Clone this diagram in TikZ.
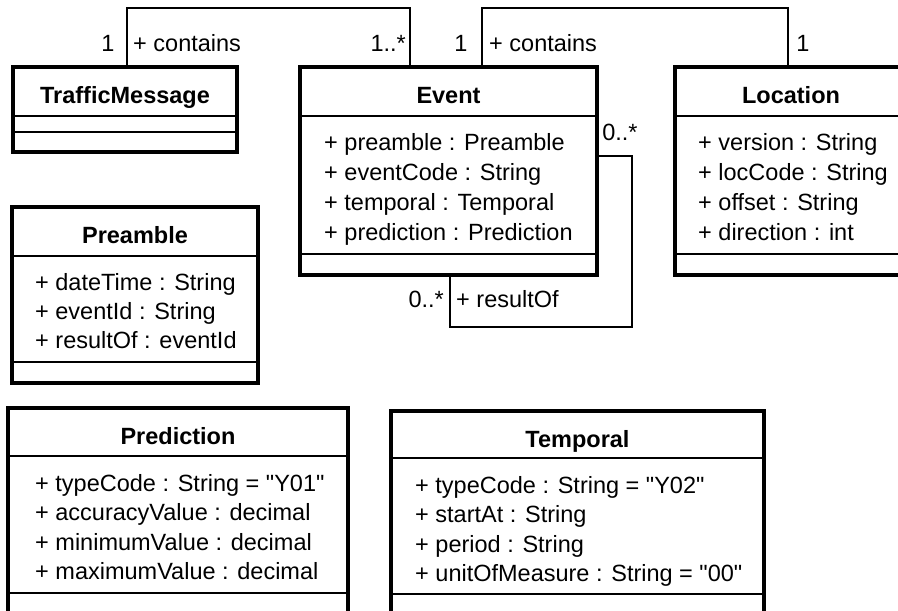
\documentclass[tikz,border=0pt]{standalone}
\usepackage{fontspec}
\setmainfont{Liberation Sans}
\begin{document}
\begin{tikzpicture}[x=1pt, y=-1pt,
    every node/.style={font=\fontsize{23.5}{28}\selectfont, inner sep=0pt},
    classbox/.style={draw, line width=3.5pt, anchor=north west, outer sep=0pt},
    divider/.style={line width=2pt},
    assoc/.style={line width=2pt},
    ctitle/.style={anchor=base, font=\fontsize{23.5}{28}\selectfont\bfseries},
    attr/.style={anchor=base west},
  ]
  \useasboundingbox (0,0) rectangle (898,611);
  \clip (0,0) rectangle (898,611);
  \fill[white] (0,0) rectangle (898,611);

  % TrafficMessage
  \node[classbox, minimum width=224pt, minimum height=85pt] (msg) at (13,67) {};
  \draw[divider] (msg.west |- 0,116) -- (msg.east |- 0,116);
  \draw[divider] (msg.west |- 0,132) -- (msg.east |- 0,132);
  \node[ctitle] (msg-title) at (msg.north |- 0,103) {TrafficMessage};

  % Event
  \node[classbox, minimum width=297pt, minimum height=208pt] (ev) at (300,67) {};
  \draw[divider] (ev.west |- 0,116) -- (ev.east |- 0,116);
  \draw[divider] (ev.west |- 0,254) -- (ev.east |- 0,254);
  \node[ctitle] (ev-title) at (ev.north |- 0,103) {Event};
  \foreach \t [count=\i] in {+ preamble : Preamble, + eventCode : String,
      + temporal : Temporal, + prediction : Prediction}
    \node[attr] (ev-a\i) at (324,120+30*\i) {\t};

  % Location
  \node[classbox, minimum width=232pt, minimum height=208pt] (loc) at (675,67) {};
  \draw[divider] (loc.west |- 0,116) -- (loc.east |- 0,116);
  \draw[divider] (loc.west |- 0,254) -- (loc.east |- 0,254);
  \node[ctitle] (loc-title) at (loc.north |- 0,103) {Location};
  \foreach \t [count=\i] in {+ version : String, + locCode : String,
      + offset : String, + direction : int}
    \node[attr] (loc-a\i) at (698,120+30*\i) {\t};

  % Preamble
  \node[classbox, minimum width=246pt, minimum height=176pt] (pre) at (12,207) {};
  \draw[divider] (pre.west |- 0,256) -- (pre.east |- 0,256);
  \draw[divider] (pre.west |- 0,362) -- (pre.east |- 0,362);
  \node[ctitle] (pre-title) at (pre.north |- 0,243) {Preamble};
  \foreach \t [count=\i] in {+ dateTime : String, + eventId : String,
      + resultOf : eventId}
    \node[attr] (pre-a\i) at (35,261+29*\i) {\t};

  % Prediction
  \node[classbox, minimum width=340pt, minimum height=240pt] (pred) at (8,408) {};
  \draw[divider] (pred.west |- 0,456) -- (pred.east |- 0,456);
  \draw[divider] (pred.west |- 0,593) -- (pred.east |- 0,593);
  \node[ctitle] (pred-title) at (pred.north |- 0,444) {Prediction};
  \foreach \t [count=\i] in {{+ typeCode : String = \textquotedbl Y01\textquotedbl},
      + accuracyValue : decimal, + minimumValue : decimal, + maximumValue : decimal}
    \node[attr] (pred-a\i) at (35,461.5+29.5*\i) {\t};

  % Temporal
  \node[classbox, minimum width=373pt, minimum height=240pt] (temp) at (391,411) {};
  \draw[divider] (temp.west |- 0,458) -- (temp.east |- 0,458);
  \draw[divider] (temp.west |- 0,594) -- (temp.east |- 0,594);
  \node[ctitle] (temp-title) at (temp.north |- 0,447) {Temporal};
  \foreach \t [count=\i] in {{+ typeCode : String = \textquotedbl Y02\textquotedbl},
      + startAt : String, + period : String,
      {+ unitOfMeasure : String = \textquotedbl 00\textquotedbl}}
    \node[attr] (temp-a\i) at (415,463.5+29.5*\i) {\t};

  % associations
  \draw[assoc] (msg.north -| 127,0) |- (410,8) -- (ev.north -| 410,0);
  \draw[assoc] (ev.north -| 482,0) |- (788,8) -- (loc.north -| 788,0);
  \draw[assoc] (ev.east |- 0,156) -| (632,327) -| (ev.south -| 450,0);

  \node (msg-mult) at (108,43) {1};
  \node[anchor=west] (msg-role) at (133,43) {+ contains};
  \node[anchor=east] (ev-mult) at (406,43) {1..*};
  \node (ev-mult2) at (461,43) {1};
  \node[anchor=west] (ev-role) at (489,43) {+ contains};
  \node (loc-mult) at (803,43) {1};
  \node (self-src) at (620,132) {0..*};
  \node[anchor=east] (self-dst) at (444,299) {0..*};
  \node[anchor=west] (self-role) at (456,299) {+ resultOf};
\end{tikzpicture}
\end{document}
